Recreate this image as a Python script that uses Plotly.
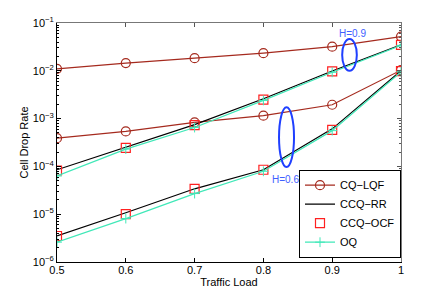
import plotly.graph_objects as go

load = [0.5, 0.6, 0.7, 0.8, 0.9, 1.0]

# H = 0.9 group
lqf_h09 = [0.011, 0.0145, 0.0184, 0.0234, 0.032, 0.052]
rr_h09 = [8.5e-5, 2.5e-4, 7.5e-4, 2.6e-3, 9.9e-3, 0.035]
ocf_h09 = [8.2e-5, 2.45e-4, 7.3e-4, 2.5e-3, 9.7e-3, 0.035]
oq_h09 = [6.3e-5, 2.3e-4, 6.5e-4, 2.4e-3, 9.3e-3, 0.034]

# H = 0.6 group
lqf_h06 = [3.9e-4, 5.4e-4, 8.3e-4, 1.15e-3, 1.95e-3, 0.0103]
rr_h06 = [3.5e-6, 1.07e-5, 3.4e-5, 8.5e-5, 6.1e-4, 0.0100]
ocf_h06 = [3.5e-6, 1.0e-5, 3.4e-5, 8.5e-5, 5.8e-4, 0.0098]
oq_h06 = [2.6e-6, 8.1e-6, 2.7e-5, 7.9e-5, 5.6e-4, 0.0095]

ytick_vals = [1e-6, 1e-5, 1e-4, 1e-3, 1e-2, 1e-1]
ytick_text = ["10<sup>−6</sup>", "10<sup>−5</sup>", "10<sup>−4</sup>",
              "10<sup>−3</sup>", "10<sup>−2</sup>", "10<sup>−1</sup>"]
xtick_vals = [0.5, 0.6, 0.7, 0.8, 0.9, 1.0]
xtick_text = ["0.5", "0.6", "0.7", "0.8", "0.9", "1"]

minor_y = [k * 10.0 ** e for e in range(-6, -1) for k in range(2, 10)]

def joined(a, b):
    return a + [None] + b

xx = load + [None] + load

fig = go.Figure()
fig.add_trace(go.Scatter(x=xx, y=joined(lqf_h09, lqf_h06), name="CQ−LQF",
                         mode="lines+markers", connectgaps=False,
                         line=dict(color="#A52A1E", width=1.2),
                         marker=dict(symbol="circle-open", size=9, color="#A52A1E", line=dict(width=1.2))))
fig.add_trace(go.Scatter(x=xx, y=joined(rr_h09, rr_h06), name="CCQ−RR",
                         mode="lines", connectgaps=False,
                         line=dict(color="black", width=1.2)))
fig.add_trace(go.Scatter(x=xx, y=joined(ocf_h09, ocf_h06), name="CCQ−OCF",
                         mode="markers",
                         marker=dict(symbol="square-open", size=9, color="#FF2020", line=dict(width=1.2))))
fig.add_trace(go.Scatter(x=xx, y=joined(oq_h09, oq_h06), name="OQ",
                         mode="lines+markers", connectgaps=False,
                         line=dict(color="#40E8B8", width=1.2),
                         marker=dict(symbol="cross-thin-open", size=7, color="#40E8B8", line=dict(width=1, color="#40E8B8"))))
# invisible trace for the gray top/right frame axes
fig.add_trace(go.Scatter(x=[0.5], y=[1e-3], xaxis="x2", yaxis="y2", mode="markers",
                         marker=dict(opacity=0), showlegend=False, hoverinfo="skip"))

font = dict(family="Liberation Sans, Arial, sans-serif", size=11, color="black")

# page body has an 8px margin, so the figure is 8px smaller and left/top margins shifted
fig.update_layout(
    width=435, height=287,
    margin=dict(l=49, r=42, t=15, b=33, autoexpand=False),
    paper_bgcolor="white", plot_bgcolor="white",
    font=font,
    showlegend=True,
    legend=dict(x=1, y=0.018, xanchor="right", yanchor="bottom",
                bgcolor="white", bordercolor="black", borderwidth=1,
                font=dict(size=11), tracegroupgap=0, itemwidth=30,
                traceorder="normal"),
    xaxis=dict(range=[0.5, 1.0], tickvals=xtick_vals, ticktext=xtick_text, automargin=False,
               ticks="inside", ticklen=4, tickcolor="black", showgrid=False, ticklabelstandoff=-2,
               zeroline=False, showline=True, linecolor="black", linewidth=1,
               title=dict(text="Traffic Load", standoff=0, font=dict(size=11))),
    yaxis=dict(type="log", range=[-6, -1], tickvals=ytick_vals, ticktext=ytick_text, automargin=False,
               ticks="inside", ticklen=4, tickcolor="black", showgrid=False,
               zeroline=False, showline=True, linecolor="black", linewidth=1,
               minor=dict(tickvals=minor_y, ticks="inside", ticklen=2, tickcolor="black", showgrid=False),
               title=dict(text="Cell Drop Rate", standoff=1, font=dict(size=11))),
    xaxis2=dict(overlaying="x", side="top", anchor="y", range=[0.5, 1.0], tickvals=xtick_vals, automargin=False,
                showticklabels=False, ticks="inside", ticklen=4, tickcolor="#555",
                showgrid=False, zeroline=False, showline=True, linecolor="#777", linewidth=1),
    yaxis2=dict(overlaying="y", side="right", anchor="x", type="log", range=[-6, -1], automargin=False,
                tickvals=ytick_vals, showticklabels=False, ticks="inside", ticklen=4,
                tickcolor="#555", showgrid=False, zeroline=False, showline=True,
                linecolor="#777", linewidth=1,
                minor=dict(tickvals=minor_y, ticks="inside", ticklen=2, tickcolor="#555", showgrid=False)),
)

ell_color = "#1F3FFF"
fig.add_shape(type="circle", xref="x", yref="y domain", x0=0.9145, x1=0.9358, y0=0.80, y1=0.933,
              line=dict(color=ell_color, width=2))
fig.add_shape(type="circle", xref="x", yref="y domain", x0=0.8227, x1=0.8445, y0=0.397, y1=0.647,
              line=dict(color=ell_color, width=2))
fig.add_annotation(text="H=0.9", xref="x", yref="y domain", x=0.9297, y=0.954,
                   xanchor="center", yanchor="middle",
                   showarrow=False, font=dict(color="#4060FF", size=10))
fig.add_annotation(text="H=0.6", xref="x", yref="y domain", x=0.8324, y=0.346,
                   xanchor="center", yanchor="middle",
                   showarrow=False, font=dict(color="#4060FF", size=10))

fig.write_html("out.html")
